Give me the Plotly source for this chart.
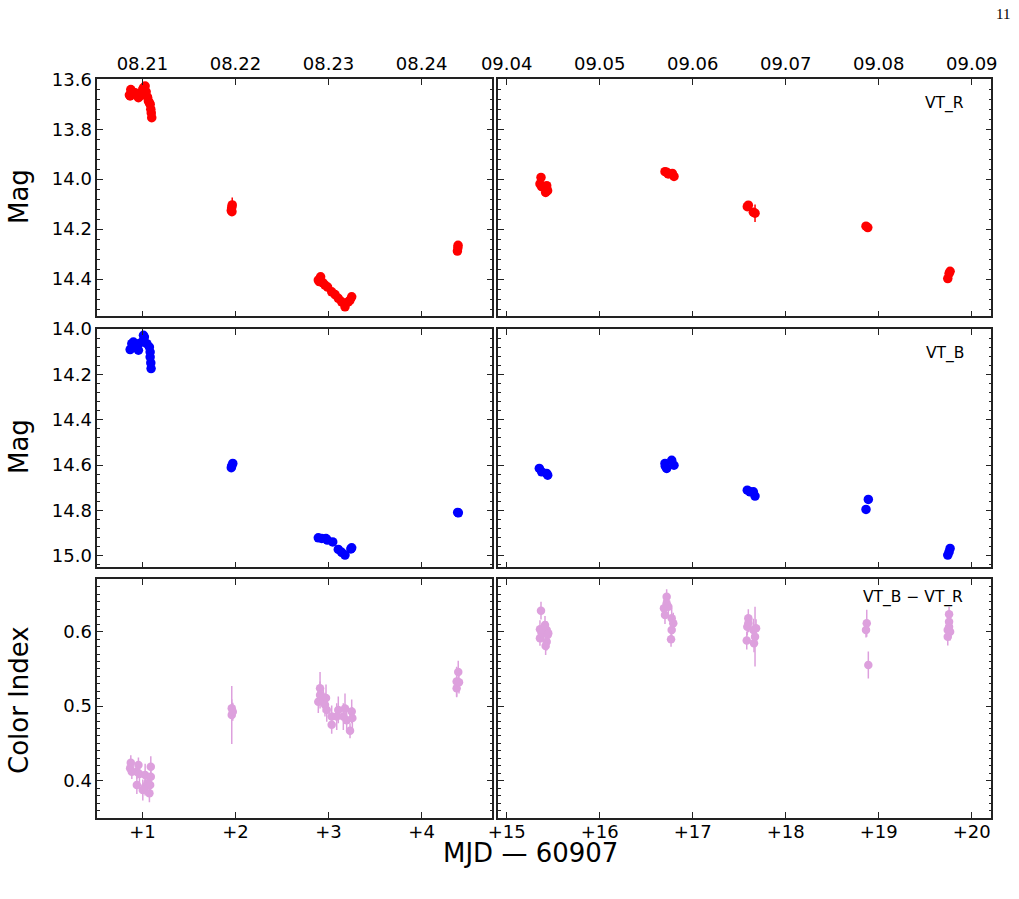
import plotly.graph_objects as go

# ---------------- data (MJD - 60907) ----------------
vtr_t = [0.860, 0.868, 0.875, 0.882, 0.905, 0.922, 0.940, 0.957, 0.965, 0.994, 1.004, 1.011,
         1.021, 1.029, 1.040, 1.055, 1.064, 1.075, 1.083, 1.090, 1.095, 1.100,
         1.955, 1.960, 1.965, 1.962,
         2.890, 2.900, 2.915, 2.940, 2.962, 2.990, 3.034, 3.070, 3.105, 3.141, 3.177, 3.212, 3.230, 3.249,
         4.385, 4.390, 4.392,
         15.358, 15.369, 15.376, 15.419, 15.430, 15.440,
         16.702, 16.720, 16.737, 16.781, 16.799,
         17.587, 17.598, 17.652, 17.670,
         18.863, 18.882,
         19.742, 19.756, 19.767]
vtr_mag = [13.663, 13.667, 13.641, 13.648, 13.655, 13.654, 13.664, 13.674, 13.670, 13.652, 13.640, 13.634,
           13.661, 13.627, 13.650, 13.672, 13.687, 13.695, 13.700, 13.720, 13.735, 13.754,
           14.125, 14.112, 14.103, 14.130,
           14.404, 14.410, 14.391, 14.415, 14.424, 14.432, 14.451, 14.462, 14.477, 14.491, 14.511, 14.491, 14.485, 14.471,
           14.288, 14.275, 14.265,
           14.019, 13.993, 14.030, 14.053, 14.026, 14.046,
           13.970, 13.972, 13.979, 13.977, 13.989,
           14.110, 14.104, 14.132, 14.136,
           14.188, 14.194,
           14.398, 14.378, 14.369]
vtr_err = [0.004] * 22 + [0.008, 0.010, 0.030, 0.008] + [0.006] * 14 + [0.005] * 3 + \
          [0.005] * 6 + [0.004] * 5 + [0.006, 0.006, 0.008, 0.035] + [0.004, 0.004] + [0.005] * 3

vtb_t = [0.868, 0.886, 0.903, 0.922, 0.940, 0.957, 0.957, 0.994, 1.011, 1.021, 1.047, 1.075, 1.083,
         1.083, 1.090, 1.093,
         1.955, 1.960, 1.971,
         2.890, 2.927, 2.973, 2.987, 3.045, 3.105, 3.141, 3.177, 3.240, 3.249,
         4.388, 4.395,
         15.351, 15.376, 15.430, 15.441,
         16.702, 16.706, 16.720, 16.774, 16.799,
         17.587, 17.616, 17.652, 17.670,
         18.863, 18.888,
         19.742, 19.756, 19.767]
vtb_mag = [14.091, 14.065, 14.058, 14.072, 14.080, 14.094, 14.065, 14.058, 14.028, 14.036, 14.065, 14.080, 14.102,
           14.124, 14.150, 14.175,
           14.612, 14.604, 14.593,
           14.921, 14.924, 14.924, 14.931, 14.939, 14.972, 14.985, 14.997, 14.970, 14.965,
           14.809, 14.811,
           14.615, 14.630, 14.637, 14.645,
           14.593, 14.605, 14.615, 14.579, 14.601,
           14.711, 14.718, 14.718, 14.737,
           14.796, 14.752,
           14.997, 14.983, 14.968]
vtb_err = [0.004] * len(vtb_t)

ci_t = [0.875, 0.868, 0.886, 0.940, 0.957, 0.940, 0.968, 1.004, 1.029, 1.029, 1.054, 1.075, 1.083, 1.090, 1.090,
        1.960, 1.960, 1.971,
        2.890, 2.909, 2.909, 2.944, 2.973, 2.962, 2.981, 3.034, 3.034, 3.088, 3.105, 3.159, 3.177, 3.195,
        3.231, 3.249, 3.256,
        4.377, 4.394, 4.402, 4.377,
        15.369, 15.358, 15.358, 15.376, 15.412, 15.430, 15.440, 15.430, 15.419, 15.447,
        16.720, 16.720, 16.691, 16.702, 16.774, 16.791, 16.774, 16.767, 16.738,
        17.587, 17.598, 17.581, 17.652, 17.670, 17.659, 17.681, 17.598,
        18.871, 18.863, 18.888,
        19.756, 19.756, 19.742, 19.767, 19.742, 19.756]
ci_val = [0.4242, 0.4166, 0.4121, 0.4121, 0.4211, 0.3942, 0.4090, 0.3875, 0.4077, 0.3920, 0.3965, 0.3831, 0.3942,
          0.4054, 0.4188,
          0.4972, 0.4882, 0.4926,
          0.506, 0.524, 0.515, 0.508, 0.511, 0.502, 0.495, 0.486, 0.475, 0.486, 0.495, 0.486, 0.497, 0.481,
          0.467, 0.493, 0.484,
          0.524, 0.546, 0.532, 0.533,
          0.6282, 0.6032, 0.5911, 0.5978, 0.6090, 0.6023, 0.5956, 0.5866, 0.5808, 0.5978,
          0.6470, 0.6380, 0.6314, 0.6224, 0.6180, 0.6113, 0.6023, 0.5898, 0.6336,
          0.6067, 0.6180, 0.5880, 0.6023, 0.5933, 0.5844, 0.6046, 0.6113,
          0.6113, 0.6023, 0.5553,
          0.6234, 0.6134, 0.6023, 0.6000, 0.5933, 0.6067]
ci_err = [0.010, 0.008, 0.010, 0.010, 0.010, 0.012, 0.012, 0.014, 0.015, 0.012, 0.012, 0.012, 0.012, 0.012, 0.014,
          0.012, 0.039, 0.012,
          0.015, 0.022, 0.018, 0.016, 0.018, 0.016, 0.016, 0.015, 0.012, 0.018, 0.018, 0.018, 0.020, 0.015,
          0.010, 0.016, 0.015,
          0.012, 0.015, 0.015, 0.020,
          0.012, 0.012, 0.010, 0.012, 0.012, 0.012, 0.014, 0.012, 0.012, 0.012,
          0.010, 0.010, 0.012, 0.012, 0.014, 0.014, 0.012, 0.010, 0.012,
          0.012, 0.012, 0.012, 0.015, 0.040, 0.012, 0.012, 0.012,
          0.018, 0.010, 0.018,
          0.010, 0.012, 0.012, 0.012, 0.012, 0.012]

left_ticks = [1, 2, 3, 4]
right_ticks = [15, 16, 17, 18, 19, 20]
left_dates = ["08.21", "08.22", "08.23", "08.24"]
right_dates = ["09.04", "09.05", "09.06", "09.07", "09.08", "09.09"]
left_rel = ["+1", "+2", "+3", "+4"]
right_rel = ["+15", "+16", "+17", "+18", "+19", "+20"]

# ---------------- layout geometry ----------------
W, H = 1019, 899
def fx(p): return p / W
def fy(p): return 1 - p / H

COLS = [[fx(97.3), fx(492.3)], [fx(498.3), fx(991.3)]]
ROWS = [[fy(316.3), fy(79.0)], [fy(567.3), fy(328.7)], [fy(817.7), fy(579.0)]]
XR = [[0.515, 4.76], [14.91, 20.21]]
YR = [[14.549, 13.599], [15.051, 13.999], [0.3503, 0.6707]]
YDT = [0.2, 0.2, 0.1]
YMINOR = [0.04, 0.04, 0.01]

FONT = "DejaVu Sans"
fig = go.Figure()

series = [
    (vtr_t, vtr_mag, vtr_err, "#ff0000", 9.5),
    (vtb_t, vtb_mag, vtb_err, "#0000ff", 9.5),
    (ci_t, ci_val, ci_err, "#dda0dd", 8.5),
]

for r, (ts, vs, es, col, ms) in enumerate(series):
    for c in range(2):
        sel = [i for i, t in enumerate(ts) if (t < 10) == (c == 0)]
        idx = r * 2 + c + 1
        sfx = "" if idx == 1 else str(idx)
        fig.add_trace(go.Scatter(
            x=[ts[i] for i in sel], y=[vs[i] for i in sel],
            mode="markers",
            marker=dict(color=col, size=ms, line=dict(width=0)),
            error_y=dict(type="data", array=[es[i] for i in sel], color=col, thickness=1.5, width=0),
            xaxis="x" + sfx, yaxis="y" + sfx, showlegend=False, hoverinfo="skip"))

layout = {}
for r in range(3):
    for c in range(2):
        idx = r * 2 + c + 1
        sfx = "" if idx == 1 else str(idx)
        ticks = left_ticks if c == 0 else right_ticks
        standoff = 0
        if r == 0:
            ttext = left_dates if c == 0 else right_dates
            side = "top"
            showlab = True
        elif r == 2:
            ttext = left_rel if c == 0 else right_rel
            side = "bottom"
            showlab = True
            standoff = -3
        else:
            ttext = left_rel if c == 0 else right_rel
            side = "bottom"
            showlab = False
        layout["xaxis" + sfx] = dict(
            domain=COLS[c], range=XR[c], anchor="y" + sfx, side=side, automargin=False,
            tickvals=ticks, ticktext=ttext, showticklabels=showlab, ticklabelstandoff=standoff,
            ticks="inside", ticklen=6, tickwidth=1.2, tickcolor="#222",
            showline=True, linecolor="#222", linewidth=1.6, mirror="ticks",
            showgrid=False, zeroline=False,
            tickfont=dict(family=FONT, size=18, color="black"))
        layout["yaxis" + sfx] = dict(
            domain=ROWS[r], range=YR[r], anchor="x" + sfx, automargin=False,
            dtick=YDT[r], tick0=0, tickformat=".1f", showticklabels=(c == 0),
            ticks="inside", ticklen=6, tickwidth=1.2, tickcolor="#222",
            minor=dict(dtick=YMINOR[r], tick0=0, ticks="inside", ticklen=3, tickwidth=1, tickcolor="#222", showgrid=False),
            showline=True, linecolor="#222", linewidth=1.6, mirror="ticks",
            showgrid=False, zeroline=False,
            tickfont=dict(family=FONT, size=18, color="black"))

annotations = [
    dict(text="VT_R", x=fx(966), y=fy(103), xanchor="right", yanchor="middle"),
    dict(text="VT_B", x=fx(966), y=fy(353), xanchor="right", yanchor="middle"),
    dict(text="VT_B − VT_R", x=fx(965), y=fy(597), xanchor="right", yanchor="middle"),
]
for a in annotations:
    a.update(xref="paper", yref="paper", showarrow=False, font=dict(family=FONT, size=15.5, color="black"))
for txt, yc in [("Mag", 197), ("Mag", 447), ("Color Index", 700)]:
    annotations.append(dict(text=txt, x=fx(19), y=fy(yc), xref="paper", yref="paper", showarrow=False,
                            textangle=-90, xanchor="center", yanchor="middle",
                            font=dict(family=FONT, size=26, color="black")))
annotations.append(dict(text="MJD — 60907", x=fx(530), y=fy(853), xref="paper", yref="paper", showarrow=False,
                        xanchor="center", yanchor="middle", font=dict(family=FONT, size=26, color="black")))
annotations.append(dict(text="11", x=fx(1003), y=fy(14), xref="paper", yref="paper", showarrow=False,
                        xanchor="center", yanchor="middle", font=dict(family="Liberation Serif", size=15, color="black")))

fig.update_layout(
    width=W, height=H, margin=dict(l=0, r=0, t=0, b=0, autoexpand=False),
    paper_bgcolor="white", plot_bgcolor="white",
    annotations=annotations, **layout)

fig.write_html("out.html")
